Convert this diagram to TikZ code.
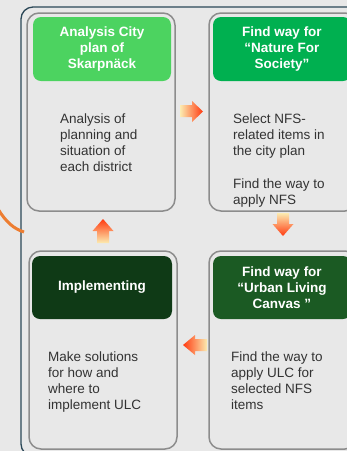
\documentclass[tikz,border=0pt]{standalone}
\usepackage{fontspec}
\setmainfont{Liberation Sans}
\definecolor{bgc}{HTML}{E8E8E8}
\definecolor{framec}{HTML}{2B4757}
\definecolor{cardline}{HTML}{8C8C8C}
\definecolor{bodytxt}{HTML}{333333}
\definecolor{greenA}{HTML}{4CD360}
\definecolor{greenB}{HTML}{00B050}
\definecolor{greenC}{HTML}{0F3A16}
\definecolor{greenD}{HTML}{1B5A23}
\definecolor{arctail}{HTML}{FCEBB0}
\definecolor{arcmid}{HTML}{FFC233}
\definecolor{arctip}{HTML}{FF3A10}
\definecolor{swoosh}{HTML}{ED7D31}
\begin{document}
\begin{tikzpicture}[x=1pt, y=1pt, line join=round, line cap=round,
  card/.style={draw=cardline, line width=1.5pt, rounded corners=12pt, minimum width=148, minimum height=198, inner sep=0},
  head/.style={rounded corners=8pt, minimum width=138, minimum height=64, inner sep=0, text=white, align=center, font=\bfseries\fontsize{13.5}{16}\selectfont},
  body/.style={anchor=north west, inner sep=0, align=left, text=bodytxt, font=\fontsize{13.5}{16}\selectfont}]
  \fill[bgc] (0,0) rectangle (347,-451);
  \useasboundingbox (0,0) rectangle (347,-451);
  \clip (0,0) rectangle (347,-451);
  % frame and swoosh
  \draw[framec, line width=1.3pt, rounded corners=12pt] (21,-7) rectangle (380,-456);
  \draw[swoosh, line width=3pt, line cap=butt] (-2,-209) .. controls (6,-222) and (14,-229) .. (24,-232);
  % cards
  \node[card] (box1) at (101,-112) {};
  \node[card] (box2) at (283,-112) {};
  \node[card] (box3) at (103,-350) {};
  \node[card] (box4) at (283,-350) {};
  \node[head, fill=greenA] (h1) at (102,-49) {Analysis City\\plan of\\Skarpnäck};
  \node[head, fill=greenB] (h2) at (282,-49) {Find way for\\“Nature For\\Society”};
  \node[head, fill=greenC, minimum width=140, minimum height=63] (h3) at (102,-287.5) {Implementing};
  \node[head, fill=greenD, minimum height=63] (h4) at (282,-287.5) {Find way for\\“Urban Living\\Canvas ”};
  \node[body] (t1) at (60,-113.3) {Analysis of\\planning and\\situation of\\each district};
  \node[body] (t2) at (233,-113.3) {Select NFS-\\related items in\\the city plan\\[17pt]Find the way to\\apply NFS};
  \node[body] (t3) at (48,-351.3) {Make solutions\\for how and\\where to\\implement ULC};
  \node[body] (t4) at (231,-351.3) {Find the way to\\apply ULC for\\selected NFS\\items};
  % block arrows
  \shade[left color=arctail, middle color=arcmid, right color=arctip]
    (180,-105) -- (192,-105) -- (192,-101) -- (203,-111.5) -- (192,-122) -- (192,-117) -- (180,-117) -- cycle;
  \shade[top color=arctail, middle color=arcmid, bottom color=arctip]
    (277,-213) -- (277,-224) -- (272.5,-224) -- (283,-236) -- (293.5,-224) -- (289,-224) -- (289,-213) -- cycle;
  \shade[right color=arctail, middle color=arcmid, left color=arctip]
    (207,-339) -- (195,-339) -- (195,-335) -- (183,-345) -- (195,-355) -- (195,-351) -- (207,-351) -- cycle;
  \shade[bottom color=arctail, middle color=arcmid, top color=arctip]
    (97,-243) -- (97,-231) -- (92.5,-231) -- (103,-219) -- (113.5,-231) -- (109,-231) -- (109,-243) -- cycle;
\end{tikzpicture}
\end{document}
